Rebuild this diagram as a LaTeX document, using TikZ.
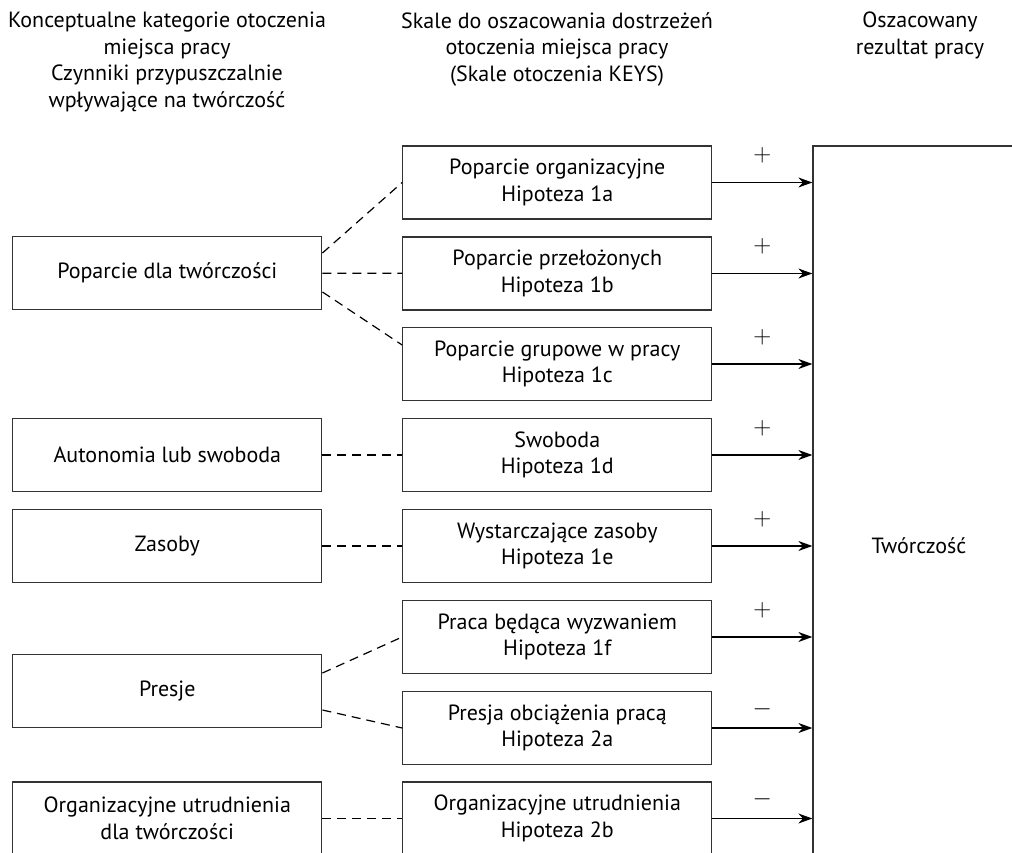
\documentclass[tikz,border=0pt]{standalone}
\usepackage{fontspec}
\setmainfont{PT Sans}
\usetikzlibrary{arrows.meta}

\begin{document}
\begin{tikzpicture}
[x=1pt,y=-1pt,
  boxdecorate/.style={shape=rectangle,draw=black!80,line width=1.3pt,
    minimum width=309pt,minimum height=73pt,inner sep=0pt,align=center,
    font=\fontsize{22}{26.7}\selectfont},
  headdecorate/.style={anchor=north,inner sep=0pt,align=center,
    font=\fontsize{22}{26.5}\selectfont},
  dashdecorate/.style={dash pattern=on 9pt off 6pt,line width=1.2pt},
  arrowdecorate/.style={->,>={Stealth[length=14pt,width=10pt]},line width=1.2pt},
  signdecorate/.style={font=\fontsize{26}{26}\selectfont}]
\useasboundingbox (0,0) rectangle (1012,853);
\clip (0,0) rectangle (1012,853);
%% column headers
\foreach \nodename/\x/\txt in {
  lhead/167/{Konceptualne kategorie otoczenia\\miejsca pracy\\Czynniki przypuszczalnie\\wpływające na twórczość},
  mhead/557/{Skale do oszacowania dostrzeżeń\\otoczenia miejsca pracy\\(Skale otoczenia KEYS)},
  rhead/920/{Oszacowany\\rezultat pracy}}
{
  \node (\nodename) at (\x,12) [headdecorate] {\txt};
}
%% categories (left)
\foreach \nodename/\y/\txt in {p/273/{Poparcie dla twórczości},
  a/455/{Autonomia lub swoboda}, z/546/{Zasoby}, r/691/{Presje},
  u/818.5/{Organizacyjne utrudnienia\\dla twórczości}}
{
  \node (\nodename) at (167.3,\y) [boxdecorate] {\txt};
}
%% scales (middle)
\foreach \nodename/\hyp/\y/\txt in {
  h1a/1a/182.5/{Poparcie organizacyjne}, h1b/1b/273.5/{Poparcie przełożonych},
  h1c/1c/364/{Poparcie grupowe w pracy}, h1d/1d/455/{Swoboda},
  h1e/1e/546/{Wystarczające zasoby}, h1f/1f/637/{Praca będąca wyzwaniem},
  h2a/2a/728/{Presja obciążenia pracą}, h2b/2b/818.5/{Organizacyjne utrudnienia}}
{
  \node (\nodename) at (557.3,\y) [boxdecorate] {\txt\\Hipoteza \hyp};
}
%% outcome
\node (tw) at (919,546) [boxdecorate,minimum width=212pt,minimum height=800pt] {Twórczość};
%% dashed links
\draw[dashdecorate] ([yshift=20pt]p.east) -- (h1a.west);
\draw[dashdecorate] ([yshift=-19pt]p.east) -- ([yshift=19pt]h1c.west);
\draw[dashdecorate] ([yshift=18pt]r.east) -- (h1f.west);
\draw[dashdecorate] ([yshift=-19pt]r.east) -- (h2a.west);
\path
\foreach \startnode/\endnode in {p/h1b, a/h1d, z/h1e, u/h2b} {
  (\startnode) edge[dashdecorate] (\endnode)
};
%% arrows into outcome
\path
\foreach \startnode/\sign/\lift in {h1a/+/27, h1b/+/27, h1c/+/27, h1d/+/27,
  h1e/+/27, h1f/+/27, h2a/-/19, h2b/-/19}
{
  (\startnode) edge[arrowdecorate] node[signdecorate,yshift=\lift pt] {$\sign$}
    (\startnode -| tw.west)
};
\end{tikzpicture}
\end{document}
